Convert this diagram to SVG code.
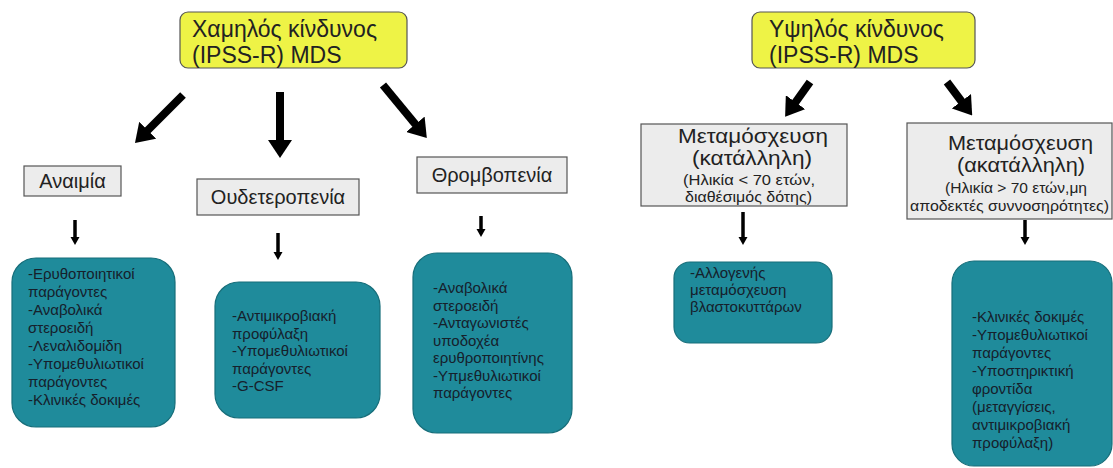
<svg xmlns="http://www.w3.org/2000/svg" width="1113" height="468" viewBox="0 0 1113 468">
<style>
  text { font-family: "Liberation Sans", Arial, sans-serif; }
  .risk { fill: #eef346; stroke: #555; stroke-width: 1.2; }
  .risk-t { font-size: 23px; fill: #222; }
  .cat { fill: #ececec; stroke: #555; stroke-width: 1.2; }
  .cat-t { font-size: 20px; fill: #222; }
  .tr-t { font-size: 20.5px; fill: #222; }
  .tr-s { font-size: 15px; fill: #222; }
  .tx { fill: #1f8b9b; stroke: #176e7a; stroke-width: 1.2; }
  .tx-t { font-size: 15px; fill: #16202b; }
  .big { stroke: #000; stroke-width: 8; fill: none; }
  .small { stroke: #000; stroke-width: 3.5; fill: none; }
</style>
<defs>
  <marker id="bighead" markerUnits="userSpaceOnUse" viewBox="0 -12 18 24" markerWidth="18" markerHeight="24" refX="1" refY="0" orient="auto">
    <path d="M0,-12 L18,0 L0,12 z" fill="#000"/>
  </marker>
  <marker id="smallhead" markerUnits="userSpaceOnUse" viewBox="0 -5 8 10" markerWidth="8" markerHeight="10" refX="1" refY="0" orient="auto">
    <path d="M0,-4.5 L8,0 L0,4.5 z" fill="#000"/>
  </marker>
</defs>

<g id="connectors">
  <line class="big" x1="183" y1="95" x2="147" y2="131" marker-end="url(#bighead)"/>
  <line class="big" x1="280" y1="92" x2="280" y2="141" marker-end="url(#bighead)"/>
  <line class="big" x1="383" y1="85" x2="416" y2="125" marker-end="url(#bighead)"/>
  <line class="big" x1="810" y1="82" x2="795" y2="103" marker-end="url(#bighead)"/>
  <line class="big" x1="947" y1="82" x2="962" y2="102" marker-end="url(#bighead)"/>
  <line class="small" x1="75" y1="220" x2="75" y2="238" marker-end="url(#smallhead)"/>
  <line class="small" x1="278" y1="233" x2="278" y2="253" marker-end="url(#smallhead)"/>
  <line class="small" x1="481" y1="216" x2="481" y2="230" marker-end="url(#smallhead)"/>
  <line class="small" x1="743" y1="212" x2="743" y2="238" marker-end="url(#smallhead)"/>
  <line class="small" x1="1025" y1="220" x2="1025" y2="238" marker-end="url(#smallhead)"/>
</g>

<g id="low-risk">
  <rect class="risk" x="180" y="12" width="227" height="56" rx="8"/>
  <text class="risk-t" x="192" y="37">Χαμηλός κίνδυνος</text>
  <text class="risk-t" x="192" y="63">(IPSS-R) MDS</text>
</g>
<g id="high-risk">
  <rect class="risk" x="752" y="12" width="223" height="56" rx="8"/>
  <text class="risk-t" x="769" y="37">Υψηλός κίνδυνος</text>
  <text class="risk-t" x="769" y="63">(IPSS-R) MDS</text>
</g>

<g id="anemia">
  <rect class="cat" x="24" y="166" width="97" height="30"/>
  <text class="cat-t" x="72.5" y="188" text-anchor="middle">Αναιμία</text>
</g>
<g id="neutropenia">
  <rect class="cat" x="197" y="179" width="162" height="36"/>
  <text class="cat-t" x="278" y="204" text-anchor="middle">Ουδετεροπενία</text>
</g>
<g id="thrombopenia">
  <rect class="cat" x="417" y="157" width="150" height="36"/>
  <text class="cat-t" x="492" y="182" text-anchor="middle">Θρομβοπενία</text>
</g>

<g id="transplant-fit">
  <rect class="cat" x="641" y="124" width="206" height="82"/>
  <text class="tr-t" x="678" y="143" textLength="150" lengthAdjust="spacingAndGlyphs">Μεταμόσχευση</text>
  <text class="tr-t" x="692" y="165" textLength="120" lengthAdjust="spacingAndGlyphs">(κατάλληλη)</text>
  <text class="tr-s" x="683" y="185" textLength="132" lengthAdjust="spacingAndGlyphs">(Ηλικία &lt; 70 ετών,</text>
  <text class="tr-s" x="685" y="202" textLength="127" lengthAdjust="spacingAndGlyphs">διαθέσιμός δότης)</text>
</g>
<g id="transplant-unfit">
  <rect class="cat" x="907" y="123" width="205" height="96"/>
  <text class="tr-t" x="948" y="150" textLength="145" lengthAdjust="spacingAndGlyphs">Μεταμόσχευση</text>
  <text class="tr-t" x="957" y="172" textLength="128" lengthAdjust="spacingAndGlyphs">(ακατάλληλη)</text>
  <text class="tr-s" x="945" y="193" textLength="142" lengthAdjust="spacingAndGlyphs">(Ηλικία &gt; 70 ετών,μη</text>
  <text class="tr-s" x="910" y="211" textLength="199" lengthAdjust="spacingAndGlyphs">αποδεκτές συννοσηρότητες)</text>
</g>

<g id="anemia-tx">
  <rect class="tx" x="12" y="258" width="163" height="169" rx="24"/>
  <text class="tx-t" x="28" y="279">-Ερυθοποιητικοί</text>
  <text class="tx-t" x="28" y="297">παράγοντες</text>
  <text class="tx-t" x="28" y="315">-Αναβολικά</text>
  <text class="tx-t" x="28" y="333">στεροειδή</text>
  <text class="tx-t" x="28" y="351">-Λεναλιδομίδη</text>
  <text class="tx-t" x="28" y="369">-Υπομεθυλιωτικοί</text>
  <text class="tx-t" x="28" y="387">παράγοντες</text>
  <text class="tx-t" x="28" y="405">-Κλινικές δοκιμές</text>
</g>
<g id="neutropenia-tx">
  <rect class="tx" x="215" y="282" width="165" height="136" rx="24"/>
  <text class="tx-t" x="232" y="321">-Αντιμικροβιακή</text>
  <text class="tx-t" x="232" y="338.5">προφύλαξη</text>
  <text class="tx-t" x="232" y="356">-Υπομεθυλιωτικοί</text>
  <text class="tx-t" x="232" y="373.5">παράγοντες</text>
  <text class="tx-t" x="232" y="391">-G-CSF</text>
</g>
<g id="thrombopenia-tx">
  <rect class="tx" x="413" y="253" width="159" height="180" rx="24"/>
  <text class="tx-t" x="433" y="293">-Αναβολικά</text>
  <text class="tx-t" x="433" y="310.5">στεροειδή</text>
  <text class="tx-t" x="433" y="328">-Ανταγωνιστές</text>
  <text class="tx-t" x="433" y="345.5">υποδοχέα</text>
  <text class="tx-t" x="433" y="363">ερυθροποιητίνης</text>
  <text class="tx-t" x="433" y="380.5">-Υπμεθυλιωτικοί</text>
  <text class="tx-t" x="433" y="398">παράγοντες</text>
</g>
<g id="transplant-fit-tx">
  <rect class="tx" x="674" y="262" width="158" height="81" rx="16"/>
  <text class="tx-t" x="690" y="278">-Αλλογενής</text>
  <text class="tx-t" x="690" y="295">μεταμόσχευση</text>
  <text class="tx-t" x="690" y="312">βλαστοκυττάρων</text>
</g>
<g id="transplant-unfit-tx">
  <rect class="tx" x="952" y="261" width="160" height="205" rx="22"/>
  <text class="tx-t" x="972" y="322">-Κλινικές δοκιμές</text>
  <text class="tx-t" x="972" y="340">-Υπομεθυλιωτικοί</text>
  <text class="tx-t" x="972" y="358">παράγοντες</text>
  <text class="tx-t" x="972" y="376">-Υποστηρικτική</text>
  <text class="tx-t" x="972" y="394">φροντίδα</text>
  <text class="tx-t" x="972" y="412">(μεταγγίσεις,</text>
  <text class="tx-t" x="972" y="430">αντιμικροβιακή</text>
  <text class="tx-t" x="972" y="448">προφύλαξη)</text>
</g>
</svg>
